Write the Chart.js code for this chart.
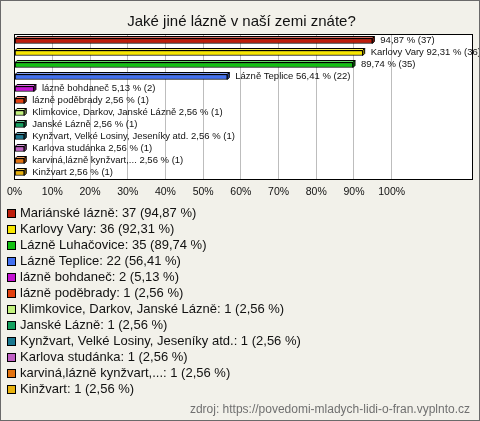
<!DOCTYPE html>
<html>
<head>
<meta charset="utf-8">
<script src="https://cdn.jsdelivr.net/npm/chart.js@4.4.1/dist/chart.umd.min.js"></script>
<style>
  html, body { margin:0; padding:0; }
  body { width:480px; height:421px; background:#f2f1ea; position:relative; overflow:hidden; font-family:"Liberation Sans", Arial, sans-serif; }
  #frame { position:absolute; left:0; top:0; width:478px; height:419px; border:1px solid #6a6a6a; pointer-events:none; }
  #wrap { position:absolute; left:0; top:0; width:480px; height:421px; }
  #legend { position:absolute; left:7px; top:205px; }
  .row { height:16px; line-height:16px; font-size:13px; color:#111; white-space:nowrap; display:flex; align-items:center; }
  .sw { width:7px; height:7px; border:1px solid #000; margin-right:4px; flex:none; }
  #src { position:absolute; right:10px; top:402px; font-size:12px; color:#707070; }
</style>
</head>
<body>
<div id="wrap"><canvas id="c" width="480" height="421"></canvas></div>
<div id="legend"></div>
<div id="src">zdroj: https://povedomi-mladych-lidi-o-fran.vyplnto.cz</div>
<div id="frame"></div>
<script>
const categories = [
  "Mariánské lázně", "Karlovy Vary", "Lázně Luhačovice", "Lázně Teplice",
  "lázně bohdaneč", "lázně poděbrady", "Klimkovice, Darkov, Janské Lázně",
  "Janské Lázně", "Kynžvart, Velké Losiny, Jeseníky atd.", "Karlova studánka",
  "karviná,lázně kynžvart,...", "Kinžvart"
];
const counts = [37, 36, 35, 22, 2, 1, 1, 1, 1, 1, 1, 1];
const percents = [94.87, 92.31, 89.74, 56.41, 5.13, 2.56, 2.56, 2.56, 2.56, 2.56, 2.56, 2.56];
const showNameOnBar = [false, true, false, true, true, true, true, true, true, true, true, true];
const colors = ["#be1e0c", "#f7e600", "#12c012", "#4270f0", "#c412d2", "#e2400e",
                "#c2f27e", "#12a05e", "#1a7890", "#c060c4", "#e2720e", "#e8b20e"];
const xTicks = [0, 10, 20, 30, 40, 50, 60, 70, 80, 90, 100];
const title = "Jaké jiné lázně v naší zemi znáte?";

const fmt = v => v.toFixed(2).replace('.', ',');

function shade(hex, f) {
  const n = parseInt(hex.slice(1), 16);
  let r = (n >> 16) & 255, g = (n >> 8) & 255, b = n & 255;
  if (f > 0) { r += (255 - r) * f; g += (255 - g) * f; b += (255 - b) * f; }
  else { r *= (1 + f); g *= (1 + f); b *= (1 + f); }
  return `rgb(${Math.round(r)},${Math.round(g)},${Math.round(b)})`;
}

const depth = 2;
const bar3d = {
  id: 'bar3d',
  afterDatasetsDraw(chart) {
    const ctx = chart.ctx;
    const meta = chart.getDatasetMeta(0);
    ctx.save();
    meta.data.forEach((el, i) => {
      const p = el.getProps(['x', 'y', 'base', 'height'], true);
      const top = p.y - p.height / 2, bot = p.y + p.height / 2;
      const l = p.base, r = p.x;
      ctx.lineWidth = 1;
      ctx.strokeStyle = '#000';
      ctx.beginPath();
      ctx.moveTo(l, top); ctx.lineTo(l + depth, top - depth); ctx.lineTo(r + depth, top - depth); ctx.lineTo(r, top); ctx.closePath();
      ctx.fillStyle = shade(colors[i], 0.35); ctx.fill(); ctx.stroke();
      ctx.beginPath();
      ctx.moveTo(r, top); ctx.lineTo(r + depth, top - depth); ctx.lineTo(r + depth, bot - depth); ctx.lineTo(r, bot); ctx.closePath();
      ctx.fillStyle = shade(colors[i], -0.35); ctx.fill(); ctx.stroke();
      const txt = (showNameOnBar[i] ? categories[i] + ' ' : '') + fmt(percents[i]) + ' % (' + counts[i] + ')';
      ctx.font = '9.5px "Liberation Sans", Arial, sans-serif';
      ctx.fillStyle = '#111';
      ctx.textBaseline = 'middle';
      ctx.textAlign = 'left';
      ctx.fillText(txt, r + depth + 6, p.y - 1);
    });
    ctx.restore();
  },
  afterDraw(chart) {
    const a = chart.chartArea, ctx = chart.ctx;
    ctx.save();
    ctx.strokeStyle = '#000';
    ctx.lineWidth = 1;
    ctx.strokeRect(Math.round(a.left) - 0.5, Math.round(a.top) - 0.5, Math.round(a.right - a.left) + 1, Math.round(a.bottom - a.top) + 1);
    ctx.restore();
  },
  beforeDraw(chart) {
    const a = chart.chartArea, ctx = chart.ctx;
    ctx.save();
    ctx.fillStyle = '#fff';
    ctx.fillRect(a.left, a.top, a.right - a.left, a.bottom - a.top);
    ctx.restore();
  }
};

new Chart(document.getElementById('c'), {
  type: 'bar',
  data: {
    labels: categories,
    datasets: [{
      data: percents,
      backgroundColor: colors,
      borderColor: '#000',
      borderWidth: 1,
      borderSkipped: false,
      barThickness: 5
    }]
  },
  options: {
    indexAxis: 'y',
    responsive: false,
    animation: false,
    events: [],
    layout: { padding: { left: 11, right: 8, top: 0, bottom: 212 } },
    plugins: {
      legend: { display: false },
      tooltip: { enabled: false },
      title: {
        display: true,
        text: title,
        color: '#111',
        font: { family: '"Liberation Sans", Arial, sans-serif', size: 15, weight: 'normal' },
        padding: { top: 13, bottom: 4 }
      }
    },
    scales: {
      x: {
        type: 'linear',
        min: 0,
        max: 121.3,
        afterBuildTicks(scale) { scale.ticks = xTicks.map(v => ({ value: v })); },
        afterFit(scale) { scale.height = 30; },
        grid: { color: '#bdbdbd', drawTicks: false, lineWidth: 1 },
        border: { display: false },
        ticks: {
          padding: 7,
          color: '#111',
          font: { family: '"Liberation Sans", Arial, sans-serif', size: 10.5 },
          callback: v => v + '%'
        }
      },
      y: {
        display: false,
        grid: { display: false }
      }
    }
  },
  plugins: [bar3d]
});

const lg = document.getElementById('legend');
categories.forEach((c, i) => {
  const row = document.createElement('div');
  row.className = 'row';
  const sw = document.createElement('span');
  sw.className = 'sw';
  sw.style.background = colors[i];
  const t = document.createElement('span');
  t.textContent = c + ': ' + counts[i] + ' (' + fmt(percents[i]) + ' %)';
  row.appendChild(sw); row.appendChild(t);
  lg.appendChild(row);
});
</script>
</body>
</html>
